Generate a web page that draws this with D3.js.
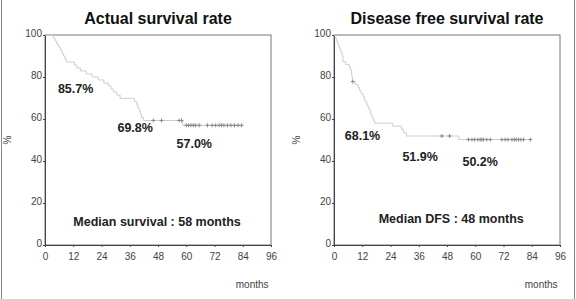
<!DOCTYPE html>
<html>
<head>
<meta charset="utf-8">
<script src="https://cdn.jsdelivr.net/npm/d3@7"></script>
<style>
  body { margin: 0; background: #fff; }
  svg { display: block; font-family: Arial, "Liberation Sans", sans-serif; }
  .tick text { fill: #444; font-size: 10px; }
  .title { font-weight: bold; font-size: 16px; fill: #111; }
  .note { font-weight: bold; font-size: 12.5px; fill: #222; }
  .axisLabel { font-size: 10px; fill: #444; }
</style>
</head>
<body>
<div id="chart"></div>
<script>
// x ticks (months) and y ticks (%)
const monthTicks = [0, 12, 24, 36, 48, 60, 72, 84, 96];
const pctTicks = [0, 20, 40, 60, 80, 100];

// Actual survival: step times / survival after each step
const osTime = [0, 3.5, 4.3, 5, 5.8, 6.5, 7.2, 7.8, 8.5, 9, 12.5, 13.5, 15, 17.5, 20, 22.7, 25, 27, 28, 29, 30.5, 31.9,
  38, 39, 39.5, 40, 40.5, 41, 41.8, 58.5, 83.5];
const osSurv = [100, 98.6, 97.1, 95.7, 94.3, 92.9, 91.4, 90.0, 88.6, 87.1, 85.7, 84.3, 82.9, 81.4, 80.0, 78.6, 77.1, 75.7, 74.3, 72.9, 71.4, 69.8,
  68.3, 66.8, 65.3, 63.8, 62.3, 60.8, 59.3, 57.0, 57.0];
const osCensor = [46, 49.5, 57, 58, 60, 61, 62, 63, 64, 65.5, 69, 71, 72.5, 74, 75, 76, 77.5, 79, 80.5, 82, 83.5];

// Disease free survival
const dfsTime = [0, 0.5, 1, 1.5, 2, 2.5, 3, 3.5, 3.8, 5, 6.5, 7, 7.5, 7.8, 9, 10.2, 10.8, 11.5, 12.3, 12.8, 13.2, 14, 14.5,
  15.2, 15.6, 16, 16.7, 17.3, 25, 28.6, 29.5, 30.7, 53, 83.4];
const dfsSurv = [100, 98.6, 97.2, 95.8, 94.4, 92.9, 91.5, 90.1, 87.3, 86.0, 84.6, 83.2, 80.4, 77.8, 76.4, 75.0, 73.6, 72.2, 70.8, 69.5, 68.1, 66.7, 65.2,
  63.8, 62.3, 60.9, 59.4, 58.0, 56.6, 55.1, 53.5, 51.9, 50.2, 50.2];
const dfsCensor = [8, 45.8, 49.1, 57.1, 58.6, 59.7, 61.1, 62.1, 62.8, 63.5, 64.9, 66.4, 71.3, 72.7, 73.9, 75.6, 76.6, 77.4, 78.4, 79.4, 80.5, 83.4];

// labels: text, month, percent
const osNotes = [["85.7%", 13, 74.3], ["69.8%", 38.3, 55.7], ["57.0%", 63.4, 48.1], ["Median survival : 58 months", 47.6, 11]];
const dfsNotes = [["68.1%", 12.1, 51.9], ["51.9%", 36.6, 41.9], ["50.2%", 62.1, 39.5], ["Median DFS : 48 months", 49.8, 12.4]];

const W = 576, H = 299;
const svg = d3.select('#chart').append('svg').attr('width', W).attr('height', H);
svg.append('rect').attr('width', W).attr('height', H).attr('fill', '#fff');

// outer frame
svg.append('rect')
  .attr('x', 1.5).attr('y', -5).attr('width', W - 3).attr('height', H + 10)
  .attr('fill', 'none').attr('stroke', '#888');

function kmPanel(left, title, times, surv, censor, notes) {
  const x = d3.scaleLinear().domain([0, 96]).range([left, left + 226]);
  const y = d3.scaleLinear().domain([0, 100]).range([245, 35]);
  const g = svg.append('g');

  // plot box
  g.append('rect')
    .attr('x', x(0)).attr('y', y(100))
    .attr('width', x(96) - x(0)).attr('height', y(0) - y(100))
    .attr('fill', 'none').attr('stroke', '#777');

  const xAxis = g.append('g')
    .attr('transform', 'translate(0,' + y(0) + ')')
    .call(d3.axisBottom(x).tickValues(monthTicks).tickSize(2).tickPadding(6));
  const yAxis = g.append('g')
    .attr('transform', 'translate(' + x(0) + ',0)')
    .call(d3.axisLeft(y).tickValues(pctTicks).tickSize(2).tickPadding(1));
  [xAxis, yAxis].forEach(a => {
    a.select('.domain').attr('stroke', '#444');
    a.selectAll('.tick line').attr('stroke', '#444');
  });
  yAxis.selectAll('.tick text').attr('dy', '0.1em');

  g.append('text')
    .attr('class', 'title')
    .attr('x', x(48)).attr('y', 24)
    .attr('text-anchor', 'middle')
    .text(title);

  g.append('text')
    .attr('class', 'axisLabel')
    .attr('transform', 'translate(' + (left - 34) + ',140) rotate(-90)')
    .attr('text-anchor', 'middle')
    .text('%');

  g.append('text')
    .attr('class', 'axisLabel')
    .attr('x', x(88)).attr('y', 288)
    .attr('text-anchor', 'middle')
    .text('months');

  // survival curve
  const pts = times.map((t, i) => [t, surv[i]]);
  g.append('path')
    .datum(pts)
    .attr('fill', 'none')
    .attr('stroke', '#cdcdcd')
    .attr('stroke-width', 1)
    .attr('d', d3.line().curve(d3.curveStepAfter).x(d => x(d[0])).y(d => y(d[1])));

  // censor marks, placed on the curve
  const survAt = t => {
    let v = surv[0];
    times.forEach((tt, i) => { if (tt <= t) v = surv[i]; });
    return v;
  };
  g.append('g').selectAll('path')
    .data(censor)
    .join('path')
    .attr('transform', d => 'translate(' + x(d) + ',' + y(survAt(d)) + ')')
    .attr('d', 'M-2,0H2M0,-2V2')
    .attr('stroke', '#888')
    .attr('stroke-width', 1)
    .attr('fill', 'none');

  g.append('g').selectAll('text')
    .data(notes)
    .join('text')
    .attr('class', 'note')
    .attr('x', d => x(d[1]))
    .attr('y', d => y(d[2]))
    .attr('dy', '0.35em')
    .attr('text-anchor', 'middle')
    .text(d => d[0]);
}

kmPanel(45, 'Actual  survival rate', osTime, osSurv, osCensor, osNotes);
kmPanel(334, 'Disease free survival rate', dfsTime, dfsSurv, dfsCensor, dfsNotes);
</script>
</body>
</html>
